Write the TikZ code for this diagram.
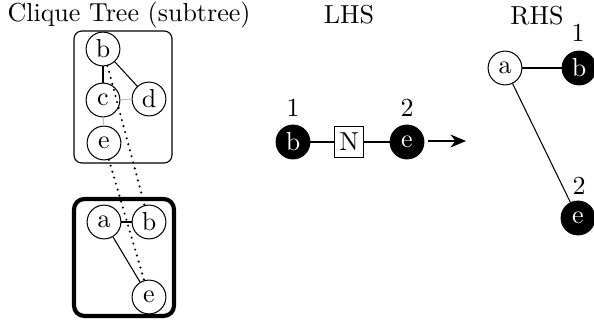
\documentclass[tikz,border=0pt]{standalone}
\usetikzlibrary{arrows.meta}
\begin{document}
\begin{tikzpicture}[x=0.3846pt,y=-0.3846pt,
  circ/.style={circle,draw,line width=0.4pt,minimum size=13pt,inner sep=0pt,fill=white},
  blk/.style={circ,fill=black,text=white},
  edge/.style={line width=0.4pt},
  grayedge/.style={line width=0.4pt,black!25},
  corr/.style={line width=0.9pt,line cap=round,dash pattern=on 0pt off 2.4pt},
  lbl/.style={inner sep=0pt}]
\useasboundingbox (0,0) rectangle (594,326);
% titles
\node[lbl] (t1) at (129,15) {Clique Tree (subtree)};
\node[lbl] (t2) at (349,15) {LHS};
\node[lbl] (t3) at (537,16) {RHS};
% top box
\draw[line width=0.45pt,rounded corners=3pt] (74,31) rectangle (172,163);
\node[circ] (tb) at (103,49) {b};
\node[circ] (tc) at (103,100) {c};
\node[circ] (td) at (149,99) {d};
\node[circ] (te) at (104,143) {e};
\draw[edge] (tb) -- (tc);
\draw[edge] (tb) -- (td);
\draw[grayedge] (tc) -- (td);
\draw[grayedge] (tc) -- (te);
% bottom box
\draw[line width=1.6pt,rounded corners=4pt] (74,199) rectangle (174,316);
\node[circ] (ba) at (104,222) {a};
\node[circ] (bb) at (149,222) {b};
\node[circ] (be) at (149,297) {e};
\draw[edge] (ba) -- (bb);
\draw[edge] (ba) -- (be);
% correspondences
\draw[corr] (tb) -- (bb);
\draw[corr] (te) -- (be);
% LHS
\node[blk] (lb) at (293,142) {b};
\node[draw,line width=0.4pt,minimum width=11pt,minimum height=12pt,inner sep=0pt,fill=white] (ln) at (349,142) {N};
\node[blk] (le) at (407,142) {e};
\node[lbl] (l1) at (293,108) {1};
\node[lbl] (l2) at (407,108) {2};
\draw[edge] (lb) -- (ln);
\draw[edge] (ln) -- (le);
\coordinate (ar1) at (428,141);
\coordinate (ar2) at (466,141);
\draw[line width=0.4pt,-{Stealth[length=6pt,width=5pt]}] (ar1) -- (ar2);
% RHS
\node[circ] (ra) at (505,68) {a};
\node[blk] (rb) at (579,68) {b};
\node[blk] (re) at (578,218) {e};
\node[lbl] (r1) at (578,33) {1};
\node[lbl] (r2) at (579,186) {2};
\draw[edge] (ra) -- (rb);
\draw[edge] (ra) -- (re);
\end{tikzpicture}
\end{document}
